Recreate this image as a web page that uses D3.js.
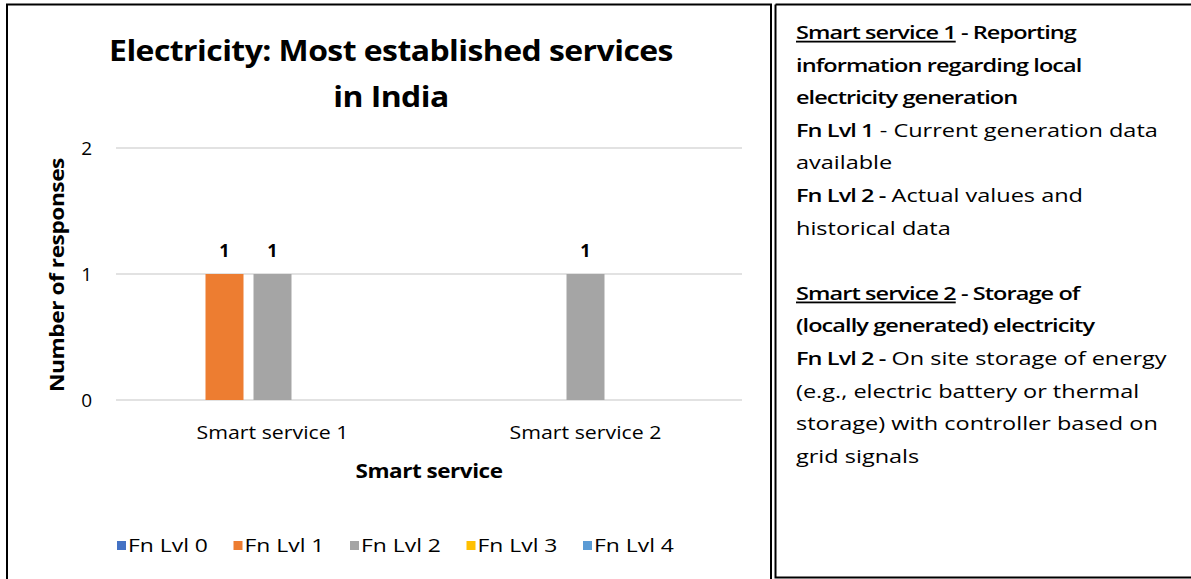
<!DOCTYPE html>
<html>
<head>
<meta charset="utf-8">
<script src="https://cdn.jsdelivr.net/npm/d3@7"></script>
<style>
  html, body { margin: 0; padding: 0; background: #fff; }
  svg { display: block; }
  text { font-family: "Open Sans", Lato, sans-serif; fill: #000; }
</style>
</head>
<body>
<div id="chart"></div>
<script>
const categories = ["Smart service 1", "Smart service 2"];
const seriesNames = ["Fn Lvl 0", "Fn Lvl 1", "Fn Lvl 2", "Fn Lvl 3", "Fn Lvl 4"];
const seriesColors = ["#4472C4", "#ED7D31", "#A5A5A5", "#FFC000", "#5B9BD5"];
// values[series][category]
const seriesValues = [
    [0, 0],
    [1, 0],
    [1, 1],
    [0, 0],
    [0, 0]
];
const yTicks = [0, 1, 2];
const titleLines = ["Electricity: Most established services", "in India"];

// side note text, one entry per line: [text, bold, underline]
const noteLines = [
    [["Smart service 1", true, true], [" - Reporting", true, false]],
    [["information regarding local", true, false]],
    [["electricity generation", true, false]],
    [["Fn Lvl 1", true, false], [" - Current generation data", false, false]],
    [["available", false, false]],
    [["Fn Lvl 2 -", true, false], [" Actual values and", false, false]],
    [["historical data", false, false]],
    [],
    [["Smart service 2", true, true], [" - Storage of", true, false]],
    [["(locally generated) electricity", true, false]],
    [["Fn Lvl 2 -", true, false], [" On site storage of energy", false, false]],
    [["(e.g., electric battery or thermal", false, false]],
    [["storage) with controller based on", false, false]],
    [["grid signals", false, false]]
];

const W = 1191, H = 579;
const svg = d3.select("#chart").append("svg").attr("width", W).attr("height", H);

// the source text is set wider than the fonts we have, so stretch it sideways
function stretch(sel, sx) {
    sel.attr("transform", function () {
        const x = +this.dataset.x, y = +this.dataset.y;
        return `translate(${x},${y}) scale(${sx},1)`;
    });
}
function place(sel, fx, fy) {
    sel.each(function (d, i) {
        this.dataset.x = typeof fx === "function" ? fx(d, i) : fx;
        this.dataset.y = typeof fy === "function" ? fy(d, i) : fy;
    });
}
function ratio(node, target) {
    return target / node.getComputedTextLength();
}

// frames
const frame = svg.append("g").attr("fill", "none").attr("stroke", "#000");
frame.append("path").attr("d", "M7,580 V4.5 H771 V580").attr("stroke-width", 2);
frame.append("path").attr("d", "M775.5,4.5 H1191 M775.5,4.5 V577.5 H1191").attr("stroke-width", 2);

const plot = { left: 116, right: 742, top: 148, bottom: 400 };

const x0 = d3.scaleBand().domain(categories).range([plot.left, plot.right]);
const x1 = d3.scaleBand().domain(seriesNames).range([0, x0.bandwidth()])
    .paddingInner(10 / 48).paddingOuter(0.8646);
const y = d3.scaleLinear().domain([0, 2]).range([plot.bottom, plot.top]);

// gridlines
svg.append("g").selectAll("line").data(yTicks).join("line")
    .attr("x1", plot.left).attr("x2", plot.right)
    .attr("y1", d => y(d)).attr("y2", d => y(d))
    .attr("stroke", "#D9D9D9").attr("stroke-width", 1.3);

// y tick labels
svg.append("g").selectAll("text").data(yTicks).join("text")
    .attr("x", 92).attr("y", d => y(d)).attr("dy", "0.35em")
    .attr("text-anchor", "end").attr("font-size", 19).text(d => d);

// bars
const bars = [];
seriesNames.forEach((s, si) => {
    categories.forEach((c, ci) => {
        bars.push({ s, c, v: seriesValues[si][ci], color: seriesColors[si] });
    });
});
const shown = bars.filter(d => d.v > 0);
svg.append("g").selectAll("rect").data(shown).join("rect")
    .attr("x", d => x0(d.c) + x1(d.s))
    .attr("y", d => y(d.v))
    .attr("width", x1.bandwidth())
    .attr("height", d => y(0) - y(d.v))
    .attr("fill", d => d.color);

svg.append("g").selectAll("text").data(shown).join("text")
    .attr("x", d => x0(d.c) + x1(d.s) + x1.bandwidth() / 2)
    .attr("y", d => y(d.v) - 17)
    .attr("text-anchor", "middle").attr("font-weight", 700).attr("font-size", 18)
    .text(d => d.v);

// x category labels
const catLabels = svg.append("g").selectAll("text").data(categories).join("text")
    .attr("text-anchor", "middle").attr("font-size", 18).text(d => d)
    .call(place, d => x0(d) + x0.bandwidth() / 2, 439);
stretch(catLabels, ratio(catLabels.node(), 152));

// axis titles
const xTitle = svg.append("text")
    .attr("text-anchor", "middle").attr("font-weight", 680).attr("font-size", 19)
    .attr("letter-spacing", -0.4)
    .text("Smart service")
    .call(place, (plot.left + plot.right) / 2, 478);
stretch(xTitle, ratio(xTitle.node(), 147));

const yTitle = svg.append("text")
    .attr("text-anchor", "middle").attr("font-weight", 680).attr("font-size", 19)
    .attr("letter-spacing", -0.4)
    .text("Number of responses");
const ySx = ratio(yTitle.node(), 234);
yTitle.attr("transform", `translate(64,275) rotate(-90) scale(${ySx},1)`);

// title
const title = svg.append("g").selectAll("text").data(titleLines).join("text")
    .attr("text-anchor", "middle").attr("font-weight", 700).attr("font-size", 29)
    .attr("letter-spacing", -0.5)
    .text(d => d)
    .call(place, 391, (d, i) => 61 + i * 46);
stretch(title, ratio(title.node(), 564));

// legend
const legend = svg.append("g").selectAll("g").data(seriesNames).join("g")
    .attr("transform", (d, i) => `translate(${117 + i * 116.5},546)`);
legend.append("rect").attr("x", 0).attr("y", -5).attr("width", 9).attr("height", 9)
    .attr("fill", (d, i) => seriesColors[i]);
const legText = legend.append("text").attr("dy", "0.35em").attr("font-size", 18).text(d => d)
    .call(place, 11, 0);
stretch(legText, ratio(legText.node(), 80));

// side notes
const notes = svg.append("g").selectAll("text").data(noteLines).join("text")
    .attr("font-size", 18)
    .call(place, 796, (d, i) => 39 + i * 32.6);
notes.selectAll("tspan").data(d => d).join("tspan")
    .attr("font-weight", d => d[1] ? 640 : 400)
    .attr("letter-spacing", d => d[1] ? -0.7 : null)
    .attr("text-decoration", d => d[2] ? "underline" : null)
    .text(d => d[0]);
stretch(notes, ratio(notes.nodes()[3], 362));
</script>
</body>
</html>
